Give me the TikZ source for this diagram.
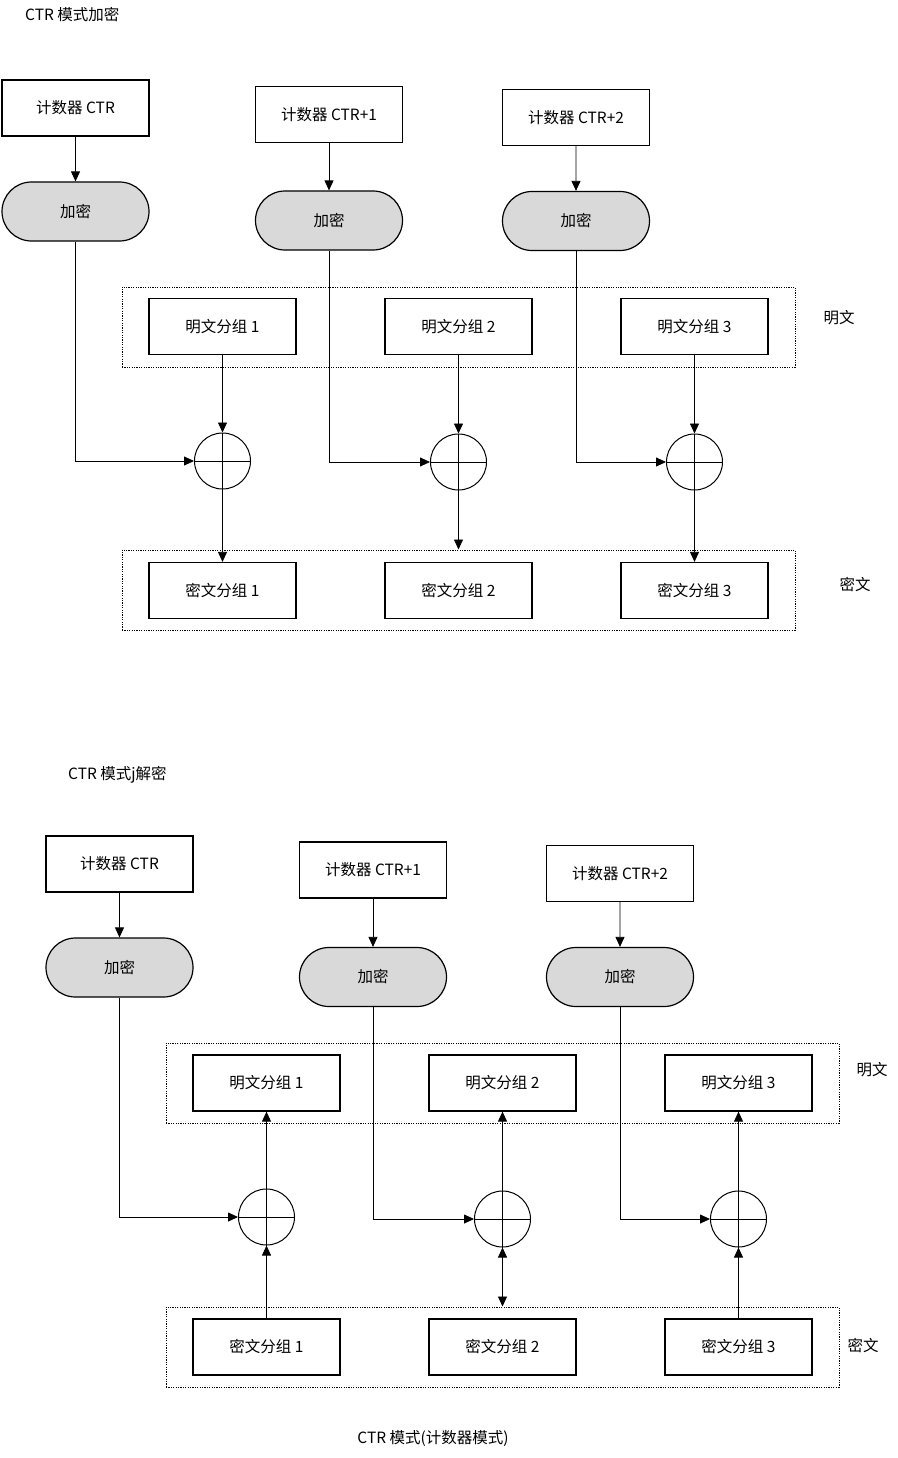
\documentclass[tikz,border=0pt]{standalone}
\usepackage{fontspec}
\setmainfont{Noto Sans CJK SC}
\usetikzlibrary{arrows.meta,shapes.misc}
\begin{document}
\begin{tikzpicture}[x=1pt,y=-1pt,
  every node/.style={font=\fontsize{15.5}{18}\selectfont},
  box/.style={draw, line width=1.2pt, minimum width=147pt, minimum height=56pt, inner sep=0pt, fill=white},
  pill/.style={draw, rounded rectangle, line width=1.2pt, minimum width=147pt, minimum height=59pt, inner sep=0pt, fill=black!15},
  xor/.style={circle, draw, line width=1pt, minimum size=56pt, inner sep=0pt},
  grp/.style={draw, dash pattern=on 1.2pt off 1.2pt, line width=1pt, minimum width=673pt, minimum height=80pt, inner sep=0pt},
  arr/.style={-{Triangle[length=10pt,width=9pt]}, line width=0.8pt},
  darr/.style={{Triangle[length=10pt,width=9pt]}-{Triangle[length=10pt,width=9pt]}, line width=0.8pt},
  lbl/.style={inner sep=0pt}
]
\useasboundingbox (0,0) rectangle (897,1458);

% ===== Encryption =====
\node[lbl, anchor=west] (t1) at (25,15) {CTR 模式加密};

\node[box] (C1) at (75.5,108) {计数器 CTR};
\node[box] (C2) at (329,114.5) {计数器 CTR+1};
\node[box] (C3) at (576,117.5) {计数器 CTR+2};

\node[pill] (E1) at (75.5,211.5) {加密};
\node[pill] (E2) at (329,220.5) {加密};
\node[pill] (E3) at (576,221) {加密};

\node[grp] (PG) at (458.5,327) {};
\node[grp] (CG) at (458.5,590) {};

\node[box] (P1) at (222.5,326.5) {明文分组 1};
\node[box] (P2) at (458.5,326.5) {明文分组 2};
\node[box] (P3) at (694.5,326.5) {明文分组 3};

\node[box] (K1) at (222.5,590.5) {密文分组 1};
\node[box] (K2) at (458.5,590.5) {密文分组 2};
\node[box] (K3) at (694.5,590.5) {密文分组 3};

\node[lbl] (lp1) at (839,318) {明文};
\node[lbl] (lc1) at (855,585) {密文};

\node[xor] (X1) at (222.5,461) {};
\node[xor] (X2) at (458.5,462) {};
\node[xor] (X3) at (694.5,462) {};
\foreach \x in {X1,X2,X3} {
  \draw[line width=1pt] (\x.north) -- (\x.south) (\x.west) -- (\x.east);
}

\draw[arr] (C1) -- (E1);
\draw[arr] (C2) -- (E2);
\draw[arr] (C3) -- (E3);

\draw[arr] (E1.south) |- (X1.west);
\draw[arr] (E2.south) |- (X2.west);
\draw[arr] (E3.south) |- (X3.west);

\draw[arr] (P1.south) -- (X1.north);
\draw[arr] (P2.south) -- (X2.north);
\draw[arr] (P3.south) -- (X3.north);

\draw[arr] (X1.south) -- (K1.north);
\draw[arr] (X2.south) -- (X2.south |- CG.north);
\draw[arr] (X3.south) -- (K3.north);

% ===== Decryption =====
\node[lbl, anchor=west] (t2) at (68,775) {CTR 模式j解密};

\node[box] (DC1) at (119.5,864) {计数器 CTR};
\node[box] (DC2) at (373,870) {计数器 CTR+1};
\node[box] (DC3) at (620,873.5) {计数器 CTR+2};

\node[pill] (DE1) at (119.5,967.5) {加密};
\node[pill] (DE2) at (373,977) {加密};
\node[pill] (DE3) at (620,977) {加密};

\node[grp] (DPG) at (502.5,1083) {};
\node[grp] (DCG) at (502.5,1347) {};

\node[box] (DP1) at (266.5,1083) {明文分组 1};
\node[box] (DP2) at (502.5,1083) {明文分组 2};
\node[box] (DP3) at (738.5,1083) {明文分组 3};

\node[box] (DK1) at (266.5,1347) {密文分组 1};
\node[box] (DK2) at (502.5,1347) {密文分组 2};
\node[box] (DK3) at (738.5,1347) {密文分组 3};

\node[lbl] (lp2) at (872,1070) {明文};
\node[lbl] (lc2) at (863,1345) {密文};

\node[xor] (DX1) at (266.5,1217) {};
\node[xor] (DX2) at (502.5,1219) {};
\node[xor] (DX3) at (738.5,1219) {};
\foreach \x in {DX1,DX2,DX3} {
  \draw[line width=1pt] (\x.north) -- (\x.south) (\x.west) -- (\x.east);
}

\draw[arr] (DC1) -- (DE1);
\draw[arr] (DC2) -- (DE2);
\draw[arr] (DC3) -- (DE3);

\draw[arr] (DE1.south) |- (DX1.west);
\draw[arr] (DE2.south) |- (DX2.west);
\draw[arr] (DE3.south) |- (DX3.west);

\draw[arr] (DX1.north) -- (DP1.south);
\draw[arr] (DX2.north) -- (DP2.south);
\draw[arr] (DX3.north) -- (DP3.south);

\draw[arr] (DK1.north) -- (DX1.south);
\draw[darr] (DX2.south) -- (DX2.south |- DCG.north);
\draw[arr] (DK3.north) -- (DX3.south);

\node[lbl] (cap) at (433,1438) {CTR 模式(计数器模式)};
\end{tikzpicture}
\end{document}
